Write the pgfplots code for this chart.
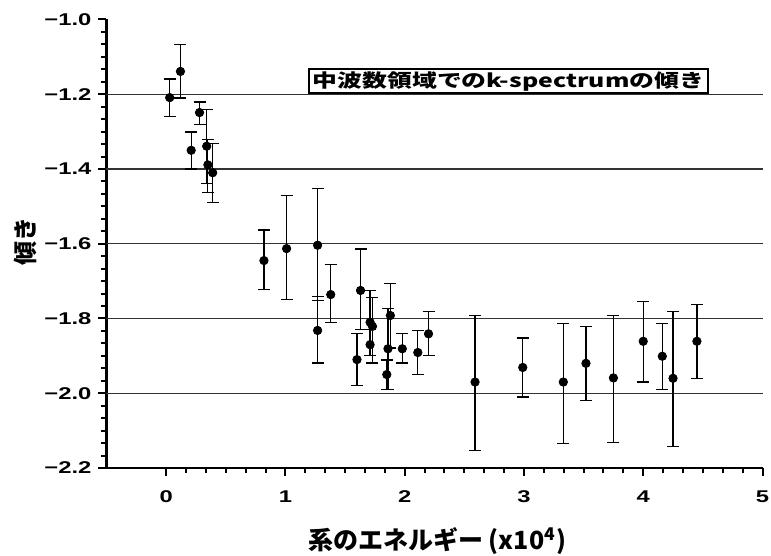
\documentclass[border=0pt]{standalone}
\usepackage{fontspec}
\setmainfont{Liberation Sans}[FakeStretch=1.4]
\newfontfamily\cjk{Noto Sans CJK JP}[FakeStretch=1.35]
\newfontfamily\cjkplain{Noto Sans CJK JP}
\usepackage{pgfplots}
\pgfplotsset{compat=1.18}

% x, slope, upper and lower error
\pgfplotstableread{
x     y       ep     em
0.03  -1.209  0.050  0.051
0.12  -1.139  0.072  0.071
0.21  -1.350  0.049  0.050
0.28  -1.249  0.028  0.031
0.34  -1.339  0.099  0.100
0.35  -1.389  0.068  0.073
0.39  -1.410  0.079  0.080
0.82  -1.645  0.082  0.078
1.01  -1.613  0.143  0.137
1.27  -1.604  0.152  0.147
1.27  -1.832  0.090  0.087
1.38  -1.736  0.080  0.074
1.63  -1.725  0.111  0.105
1.60  -1.910  0.069  0.069
1.71  -1.810  0.085  0.090
1.73  -1.821  0.078  0.098
1.71  -1.870  0.040  0.030
1.85  -1.950  0.039  0.041
1.86  -1.881  0.107  0.110
1.88  -1.792  0.086  0.087
1.98  -1.881  0.040  0.038
2.11  -1.891  0.059  0.058
2.20  -1.841  0.059  0.059
2.59  -1.970  0.178  0.183
2.99  -1.931  0.079  0.079
3.33  -1.970  0.157  0.164
3.52  -1.920  0.098  0.099
3.75  -1.959  0.167  0.173
4.00  -1.861  0.106  0.109
4.16  -1.901  0.087  0.090
4.25  -1.960  0.178  0.183
4.45  -1.861  0.098  0.099
}\slopes

\begin{document}
\begin{tikzpicture}
\begin{axis}[
    scale only axis,
    width=328pt, height=224.25pt,
    xmin=-0.5, xmax=5, ymin=-2.2, ymax=-1.0,
    axis x line*=bottom, axis y line*=left,
    axis line style={line width=1.2pt},
    xtick={0,1,2,3,4,5},
    ytick={-2.2,-2.0,-1.8,-1.6,-1.4,-1.2,-1.0},
    yticklabels={−2.2,−2.0,−1.8,−1.6,−1.4,−1.2,−1.0},
    minor x tick num=5, minor y tick num=5,
    tick align=outside,
    major tick length=4pt, minor tick length=2.5pt,
    every tick/.style={black, line width=1pt},
    extra y ticks={-2.0,-1.8,-1.6,-1.4,-1.2},
    extra y tick labels={},
    extra y tick style={grid=major, major tick length=0pt,
        major grid style={black!80, line width=0.6pt}},
    /pgf/number format/assume math mode=true,
    tick label style={font=\bfseries\fontsize{8.5}{10}\selectfont},
    xticklabel style={yshift=-4pt},
    xlabel={\cjkplain\bfseries 系のエネルギー (x10\textsuperscript{4})},
    xlabel style={font=\fontsize{12.5}{14}\selectfont, at={(rel axis cs:0.504,-0.163)}, anchor=center},
    ylabel={\cjkplain\bfseries\fontsize{12}{14}\selectfont 傾き},
    ylabel style={at={(rel axis cs:-0.124,0.504)}, anchor=center},
    clip=false,
]
\addplot+[only marks, mark=*, mark size=2.1pt, black, mark options={fill=black},
    error bars/.cd, y dir=both, y explicit,
    error bar style={line width=0.6pt, black},
    error mark options={rotate=90, mark size=3pt, line width=0.6pt, black}]
    table[x=x, y=y, y error plus=ep, y error minus=em] {\slopes};
\node[draw, line width=0.9pt, fill=white, inner xsep=2pt, inner ysep=1pt,
      font=\cjk\bfseries\fontsize{9.2}{11}\selectfont]
      at (axis cs:2.87,-1.165) {中波数領域でのk-spectrumの傾き};
\coordinate (SW) at (rel axis cs:0,0);
\coordinate (NE) at (rel axis cs:1,1);
\end{axis}
\pgfresetboundingbox
\path[use as bounding box] ([xshift=-53.25pt,yshift=-44pt]SW) rectangle ([xshift=4.25pt,yshift=9.75pt]NE);
\end{tikzpicture}
\end{document}
